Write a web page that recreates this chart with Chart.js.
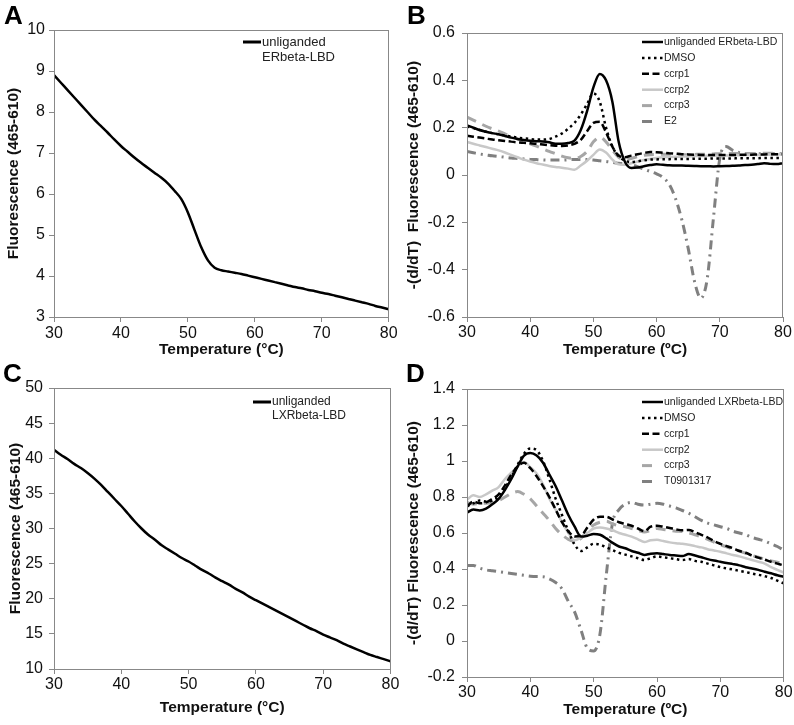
<!DOCTYPE html>
<html>
<head>
<meta charset="utf-8">
<script src="https://cdn.jsdelivr.net/npm/chart.js@4.4.1/dist/chart.umd.min.js"></script>
<style>
  body { margin: 0; background: #fff; }
  #wrap { position: relative; width: 794px; height: 725px; font-family: 'Liberation Sans', Arial, sans-serif; }
  canvas { position: absolute; }
  .tag { position: absolute; font-weight: bold; font-size: 26px; line-height: 26px; color: #000; }
</style>
</head>
<body>
<div id="wrap">
  <canvas id="chartA" width="400" height="360" style="left:0;top:0"></canvas>
  <canvas id="chartB" width="394" height="360" style="left:400px;top:0"></canvas>
  <canvas id="chartC" width="400" height="365" style="left:0;top:360px"></canvas>
  <canvas id="chartD" width="394" height="365" style="left:400px;top:360px"></canvas>
  <div class="tag" style="left:4px;top:2px">A</div>
  <div class="tag" style="left:407px;top:2px">B</div>
  <div class="tag" style="left:3px;top:360px">C</div>
  <div class="tag" style="left:406px;top:360px">D</div>
</div>
<script>
// temperatures, 30..80 °C
const temps = [30,31,32,33,34,35,36,37,38,39,40,41,42,43,44,45,46,47,48,49,50,51,52,53,54,55,56,57,58,59,60,61,62,63,64,65,66,67,68,69,70,71,72,73,74,75,76,77,78,79,80];

// A: ERbeta-LBD melt curve
const erMelt = [8.90,8.72,8.54,8.36,8.18,8.00,7.82,7.66,7.50,7.33,7.17,7.03,6.89,6.76,6.64,6.52,6.40,6.26,6.08,5.88,5.55,5.12,4.70,4.38,4.20,4.14,4.11,4.08,4.05,4.01,3.97,3.93,3.89,3.85,3.81,3.77,3.73,3.70,3.66,3.63,3.59,3.56,3.52,3.48,3.44,3.40,3.36,3.32,3.27,3.23,3.19];

// B: ERbeta-LBD derivative curves
const erUnlig = [0.21,0.2,0.19,0.183,0.177,0.172,0.165,0.158,0.152,0.148,0.145,0.143,0.142,0.138,0.132,0.132,0.135,0.145,0.19,0.27,0.37,0.427,0.4,0.31,0.14,0.055,0.03,0.032,0.037,0.042,0.045,0.043,0.041,0.04,0.04,0.039,0.038,0.037,0.037,0.036,0.037,0.038,0.039,0.04,0.042,0.043,0.046,0.05,0.047,0.046,0.05];
const erDmso = [0.205,0.198,0.19,0.183,0.177,0.172,0.167,0.163,0.158,0.155,0.152,0.15,0.15,0.152,0.162,0.175,0.195,0.22,0.255,0.3,0.345,0.31,0.2,0.12,0.08,0.06,0.055,0.058,0.062,0.065,0.066,0.067,0.067,0.068,0.068,0.068,0.069,0.069,0.069,0.07,0.07,0.07,0.07,0.071,0.071,0.071,0.071,0.072,0.072,0.072,0.072];
const erCcrp1 = [0.166,0.162,0.158,0.154,0.15,0.147,0.144,0.141,0.138,0.136,0.134,0.132,0.129,0.126,0.124,0.123,0.125,0.132,0.148,0.185,0.22,0.225,0.18,0.12,0.082,0.075,0.082,0.088,0.093,0.097,0.096,0.094,0.092,0.09,0.088,0.087,0.086,0.085,0.085,0.084,0.084,0.084,0.085,0.085,0.086,0.086,0.087,0.087,0.088,0.088,0.088];
const erCcrp2 = [0.14,0.132,0.125,0.118,0.111,0.104,0.095,0.085,0.075,0.065,0.057,0.05,0.044,0.038,0.034,0.031,0.027,0.022,0.04,0.06,0.085,0.108,0.095,0.065,0.045,0.043,0.05,0.057,0.063,0.068,0.072,0.075,0.076,0.077,0.078,0.079,0.08,0.08,0.081,0.081,0.082,0.082,0.083,0.083,0.084,0.085,0.085,0.086,0.087,0.087,0.088];
const erCcrp3 = [0.245,0.232,0.219,0.206,0.195,0.185,0.174,0.163,0.152,0.141,0.132,0.122,0.111,0.1,0.09,0.08,0.073,0.07,0.078,0.1,0.14,0.16,0.14,0.105,0.075,0.065,0.07,0.078,0.083,0.086,0.087,0.088,0.088,0.087,0.086,0.086,0.087,0.088,0.088,0.089,0.09,0.09,0.091,0.091,0.09,0.09,0.091,0.092,0.092,0.091,0.09];
const erE2 = [0.099,0.094,0.089,0.085,0.081,0.078,0.075,0.072,0.07,0.068,0.066,0.065,0.064,0.063,0.063,0.063,0.064,0.066,0.066,0.065,0.063,0.06,0.057,0.053,0.05,0.047,0.043,0.035,0.025,0.015,0.005,-0.01,-0.04,-0.1,-0.19,-0.31,-0.45,-0.52,-0.44,-0.18,0.07,0.12,0.105,0.095,0.09,0.09,0.09,0.09,0.09,0.09,0.09];

// C: LXRbeta-LBD melt curve
const lxrMelt = [41.2,40.5,39.9,39.2,38.6,37.9,37.1,36.2,35.2,34.2,33.2,32.1,31.0,30.0,29.1,28.4,27.6,27.0,26.4,25.8,25.3,24.7,24.1,23.6,23.0,22.5,22.0,21.4,20.9,20.3,19.8,19.3,18.8,18.3,17.8,17.3,16.8,16.3,15.8,15.4,14.9,14.5,14.1,13.6,13.2,12.8,12.4,12.0,11.7,11.4,11.1];

// D: LXRbeta-LBD derivative curves
const lxrUnlig = [0.713,0.73,0.725,0.735,0.76,0.79,0.84,0.9,0.97,1.03,1.045,1.03,0.99,0.925,0.86,0.78,0.7,0.635,0.58,0.585,0.595,0.59,0.57,0.545,0.525,0.515,0.5,0.49,0.478,0.485,0.488,0.483,0.478,0.475,0.472,0.483,0.475,0.465,0.455,0.447,0.44,0.433,0.427,0.42,0.41,0.403,0.395,0.385,0.376,0.365,0.357];
const lxrDmso = [0.75,0.765,0.78,0.775,0.78,0.8,0.85,0.91,0.98,1.04,1.07,1.06,1.0,0.9,0.79,0.7,0.61,0.535,0.5,0.52,0.54,0.535,0.52,0.505,0.49,0.48,0.47,0.46,0.45,0.46,0.47,0.465,0.46,0.455,0.45,0.455,0.445,0.44,0.43,0.42,0.41,0.403,0.397,0.39,0.383,0.375,0.368,0.36,0.35,0.335,0.32];
const lxrCcrp1 = [0.746,0.775,0.765,0.77,0.79,0.815,0.865,0.925,0.97,0.99,0.96,0.915,0.86,0.8,0.73,0.66,0.61,0.58,0.585,0.63,0.675,0.69,0.69,0.675,0.66,0.65,0.64,0.625,0.61,0.635,0.64,0.635,0.628,0.62,0.615,0.617,0.605,0.59,0.575,0.555,0.54,0.527,0.515,0.5,0.49,0.475,0.463,0.452,0.44,0.43,0.42];
const lxrCcrp2 = [0.784,0.81,0.8,0.815,0.835,0.855,0.9,0.935,0.97,0.995,0.965,0.93,0.87,0.79,0.73,0.66,0.6,0.56,0.575,0.6,0.625,0.63,0.625,0.615,0.6,0.59,0.58,0.565,0.55,0.56,0.562,0.555,0.548,0.543,0.54,0.535,0.527,0.52,0.51,0.503,0.496,0.487,0.478,0.47,0.46,0.45,0.44,0.43,0.41,0.395,0.38];
const lxrCcrp3 = [0.77,0.76,0.765,0.765,0.77,0.78,0.8,0.82,0.83,0.815,0.79,0.75,0.71,0.67,0.625,0.59,0.565,0.555,0.57,0.615,0.645,0.66,0.665,0.65,0.64,0.635,0.625,0.615,0.605,0.615,0.625,0.62,0.615,0.61,0.608,0.6,0.59,0.578,0.565,0.55,0.535,0.523,0.51,0.5,0.487,0.475,0.465,0.455,0.445,0.437,0.43];
const lxrT09 = [0.42,0.42,0.405,0.395,0.39,0.385,0.38,0.375,0.37,0.365,0.36,0.358,0.357,0.345,0.325,0.29,0.22,0.16,0.06,-0.04,-0.055,0.04,0.37,0.66,0.73,0.76,0.77,0.76,0.755,0.76,0.765,0.76,0.75,0.74,0.725,0.71,0.69,0.67,0.655,0.645,0.635,0.625,0.61,0.6,0.59,0.575,0.565,0.555,0.54,0.525,0.505];

const FONT = "'Liberation Sans', Arial, sans-serif";

const pts = vals => vals.map((v, i) => ({ x: temps[i], y: v }));

// line styles
const styles = {
  solid:   { borderColor: '#000', borderWidth: 2.5, borderDash: [] },
  dotted:  { borderColor: '#000', borderWidth: 2.5, borderDash: [2.5, 3.5] },
  dashed:  { borderColor: '#000', borderWidth: 2.5, borderDash: [7, 3.5] },
  light:   { borderColor: '#c8c8c8', borderWidth: 2.5, borderDash: [] },
  grayDash:{ borderColor: '#a6a6a6', borderWidth: 3, borderDash: [10, 7] },
  dashDot: { borderColor: '#808080', borderWidth: 3, borderDash: [9, 5, 2, 5] }
};

const mkSet = (label, vals, style) => Object.assign({
  label: label, data: pts(vals), pointRadius: 0, fill: false,
  cubicInterpolationMode: 'monotone'
}, styles[style]);

const frame = {
  id: 'frame',
  afterDatasetsDraw(chart) {
    const a = chart.chartArea, ctx = chart.ctx;
    ctx.save();
    ctx.strokeStyle = '#888';
    ctx.lineWidth = 1;
    ctx.strokeRect(Math.round(a.left) + 0.5, Math.round(a.top) + 0.5,
      Math.round(a.right - a.left) - 1, Math.round(a.bottom - a.top));
    ctx.restore();
  }
};

// legend with fixed sample lengths, like the spreadsheet original
const boxLegend = {
  id: 'boxLegend',
  afterDraw(chart, args, opts) {
    const ctx = chart.ctx;
    ctx.save();
    ctx.font = opts.font;
    ctx.textBaseline = 'middle';
    chart.data.datasets.forEach((ds, i) => {
      const y = opts.y + i * opts.rowH;
      const len = (opts.sampleLens && opts.sampleLens[i]) || opts.sampleW;
      ctx.beginPath();
      ctx.strokeStyle = ds.borderColor;
      ctx.lineWidth = opts.lineW || ds.borderWidth;
      ctx.setLineDash(len < opts.sampleW ? [] : (ds.borderDash || []));
      ctx.moveTo(opts.x, y);
      ctx.lineTo(opts.x + len, y);
      ctx.stroke();
      ctx.setLineDash([]);
      ctx.fillStyle = '#222';
      ds.label.split('\n').forEach((ln, j) => {
        ctx.fillText(ln, opts.x + opts.sampleW + 1, y + j * opts.lineGap);
      });
    });
    ctx.restore();
  }
};

function buildChart(id, cfg) {
  return new Chart(document.getElementById(id), {
    type: 'line',
    data: { datasets: cfg.datasets },
    options: {
      responsive: false,
      animation: false,
      events: [],
      layout: { padding: cfg.pad },
      plugins: {
        legend: { display: false },
        tooltip: { enabled: false },
        boxLegend: cfg.legend
      },
      scales: {
        x: {
          type: 'linear', min: 30, max: 80,
          ticks: { stepSize: 10, color: '#111', padding: cfg.xTickPad, font: { family: FONT, size: 16 } },
          grid: { drawOnChartArea: false, drawTicks: true, tickLength: 5, color: '#888' },
          border: { display: true, color: '#888', width: 1 },
          title: { display: true, text: cfg.xTitle, color: '#111', padding: { top: 0, bottom: cfg.xTitlePad },
                   font: { family: FONT, size: 15.5, weight: 'bold' } },
          afterFit: s => { s.height = cfg.xH; }
        },
        y: {
          min: cfg.yMin, max: cfg.yMax,
          ticks: { stepSize: cfg.yStep, color: '#111', padding: cfg.yTickPad, font: { family: FONT, size: 16 },
                   callback: v => String(Math.round(v * 10) / 10) },
          grid: { drawOnChartArea: false, drawTicks: true, tickLength: 5, color: '#888' },
          border: { display: true, color: '#888', width: 1 },
          title: { display: true, text: cfg.yTitle, color: '#111', padding: { top: cfg.yTitlePad, bottom: 0 },
                   font: { family: FONT, size: 15.5, weight: 'bold' } },
          afterFit: s => { s.width = cfg.yW; }
        }
      }
    },
    plugins: [frame, boxLegend]
  });
}

buildChart('chartA', {
  datasets: [mkSet('unliganded\nERbeta-LBD', erMelt, 'solid')],
  pad: { top: 30, right: 9, left: 0, bottom: 0 },
  yW: 54, xH: 43, yMin: 3, yMax: 10, yStep: 1,
  xTickPad: 2.4, yTickPad: 4, xTitlePad: 0.7, yTitlePad: 4.7,
  xTitle: 'Temperature (°C)', yTitle: 'Fluorescence (465-610)',
  legend: { x: 243, y: 42, rowH: 16, sampleW: 18, lineGap: 15, lineW: 3, font: '13px ' + FONT }
});

buildChart('chartB', {
  datasets: [
    mkSet('unliganded ERbeta-LBD', erUnlig, 'solid'),
    mkSet('DMSO', erDmso, 'dotted'),
    mkSet('ccrp1', erCcrp1, 'dashed'),
    mkSet('ccrp2', erCcrp2, 'light'),
    mkSet('ccrp3', erCcrp3, 'grayDash'),
    mkSet('E2', erE2, 'dashDot')
  ],
  pad: { top: 33, right: 11, left: 0, bottom: 0 },
  yW: 67, xH: 43, yMin: -0.6, yMax: 0.6, yStep: 0.2,
  xTickPad: 1.4, yTickPad: 7, xTitlePad: 0.7, yTitlePad: 4.2,
  xTitle: 'Temperature (ºC)', yTitle: '-(d/dT)  Fluorescence (465-610)',
  legend: { x: 242, y: 42, rowH: 15.9, sampleW: 21, sampleLens: [0, 0, 0, 0, 10, 10], lineGap: 0, font: '10.5px ' + FONT }
});

buildChart('chartC', {
  datasets: [mkSet('unliganded\nLXRbeta-LBD', lxrMelt, 'solid')],
  pad: { top: 28, right: 8, left: 0, bottom: 0 },
  yW: 54, xH: 56, yMin: 10, yMax: 50, yStep: 5,
  xTickPad: 0.6, yTickPad: 6, xTitlePad: 7.7, yTitlePad: 6.7,
  xTitle: 'Temperature (°C)', yTitle: 'Fluorescence (465-610)',
  legend: { x: 253, y: 42, rowH: 16, sampleW: 18, lineGap: 14, lineW: 3, font: '12px ' + FONT }
});

buildChart('chartD', {
  datasets: [
    mkSet('unliganded LXRbeta-LBD', lxrUnlig, 'solid'),
    mkSet('DMSO', lxrDmso, 'dotted'),
    mkSet('ccrp1', lxrCcrp1, 'dashed'),
    mkSet('ccrp2', lxrCcrp2, 'light'),
    mkSet('ccrp3', lxrCcrp3, 'grayDash'),
    mkSet('T0901317', lxrT09, 'dashDot')
  ],
  pad: { top: 29, right: 10, left: 0, bottom: 0 },
  yW: 67, xH: 48, yMin: -0.2, yMax: 1.4, yStep: 0.2,
  xTickPad: 1.4, yTickPad: 7, xTitlePad: 5.7, yTitlePad: 4.2,
  xTitle: 'Temperature (ºC)', yTitle: '-(d/dT) Fluorescence (465-610)',
  legend: { x: 242, y: 42, rowH: 15.9, sampleW: 21, sampleLens: [0, 0, 0, 0, 10, 10], lineGap: 0, font: '10.5px ' + FONT }
});
</script>
</body>
</html>
